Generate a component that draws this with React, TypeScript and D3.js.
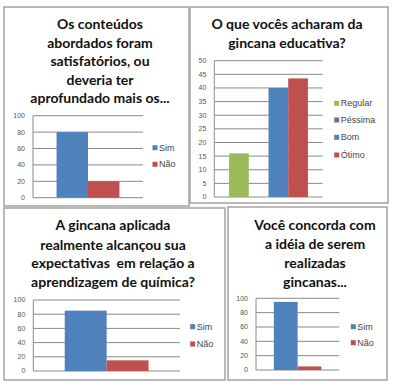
import React from "react";
import * as d3 from "d3";

// survey answers
const simNao = ["Sim", "Não"];
const q1Values = [80, 20];
const q2Series = ["Regular", "Péssima", "Bom", "Ótimo"];
const q2Values = [16, 0, 40, 43.5];
const q3Values = [85, 15];
const q4Values = [95, 5];

const ticks100 = [0, 20, 40, 60, 80, 100];
const ticks50 = [0, 5, 10, 15, 20, 25, 30, 35, 40, 45, 50];

const q1Title = ["Os conteúdos", "abordados foram", "satisfatórios, ou", "deveria ter", "aprofundado mais os..."];
const q2Title = ["O que vocês acharam da", "gincana educativa?"];
const q3Title = ["A gincana aplicada", "realmente alcançou sua", "expectativas  em relação a", "aprendizagem de química?"];
const q4Title = ["Você concorda com", "a idéia de serem", "realizadas", "gincanas..."];

const COLORS: Record<string, string> = {
  Sim: "#4F81BD",
  Não: "#C0504D",
  Regular: "#9BBB59",
  Péssima: "#8064A2",
  Bom: "#4F81BD",
  Ótimo: "#C0504D",
};

type PanelProps = {
  box: [number, number, number, number];
  title: string[];
  titleX: number;
  titleY: number[];
  series: string[];
  values: number[];
  ticks: number[];
  plot: { x0: number; x1: number; y0: number; y1: number };
  legend: { x: number; ys: number[] };
};

const Panel = ({ box, title, titleX, titleY, series, values, ticks, plot, legend }: PanelProps) => {
  const y = d3.scaleLinear().domain([0, d3.max(ticks) as number]).range([plot.y1, plot.y0]);
  // Excel-style grouped bars: gap width 150% around the single category
  const x = d3.scaleBand().domain(series).range([plot.x0, plot.x1]).paddingInner(0).paddingOuter(0.75);
  const font = "'Liberation Sans', Arial, sans-serif";

  return (
    <g>
      <rect x={box[0]} y={box[1]} width={box[2] - box[0]} height={box[3] - box[1]}
        fill="#fff" stroke="#a3a3a3" strokeWidth={1.5} />
      {title.map((t, i) => (
        <text key={t} x={titleX} y={titleY[i]} dy="0.36em" textAnchor="middle"
          style={{ whiteSpace: "pre" }}
          fontFamily="Lato, sans-serif" fontWeight="bold" fontSize={14} fill="#111">{t}</text>
      ))}
      {ticks.map((t) => (
        <g key={t}>
          <line x1={plot.x0} x2={plot.x1} y1={y(t)} y2={y(t)} stroke="#8a8a8a" strokeWidth={1} />
          <text x={plot.x0 - 8} y={y(t)} dy="0.35em" textAnchor="end" fontFamily={font}
            fontSize={7} fill="#555">{t}</text>
        </g>
      ))}
      <line x1={plot.x0} x2={plot.x0} y1={plot.y0} y2={plot.y1} stroke="#8a8a8a" />
      {series.map((s, i) => (
        <rect key={s} x={x(s)} y={y(values[i])} width={x.bandwidth()}
          height={plot.y1 - y(values[i])} fill={COLORS[s]} />
      ))}
      {series.map((s, i) => (
        <g key={s}>
          <rect x={legend.x - 2.5} y={legend.ys[i] - 2.5} width={5} height={5} fill={COLORS[s]} />
          <text x={legend.x + 4} y={legend.ys[i]} dy="0.35em" fontFamily={font} fontSize={9}
            fill="#444">{s}</text>
        </g>
      ))}
    </g>
  );
};

export default function App() {
  return (
    <svg width={395} height={391} style={{ position: "absolute", left: 0, top: 0 }}>
      <rect width={395} height={391} fill="#fff" />
      <Panel box={[4, 7, 189, 206]} title={q1Title} titleX={100}
        titleY={[24, 42.5, 61, 79.5, 97.5]} series={simNao} values={q1Values} ticks={ticks100}
        plot={{ x0: 33, x1: 143, y0: 115.7, y1: 197.7 }} legend={{ x: 155, ys: [147.7, 164.3] }} />
      <Panel box={[190, 7, 388, 203]} title={q2Title} titleX={287}
        titleY={[24, 42.7]} series={q2Series} values={q2Values} ticks={ticks50}
        plot={{ x0: 214.3, x1: 322.7, y0: 60.7, y1: 197 }}
        legend={{ x: 336.7, ys: [103.3, 120, 137.3, 155] }} />
      <Panel box={[4, 208, 225, 380]} title={q3Title} titleX={113}
        titleY={[225, 244.5, 263.3, 281.7]} series={simNao} values={q3Values} ticks={ticks100}
        plot={{ x0: 33.3, x1: 180, y0: 300, y1: 371 }} legend={{ x: 192.7, ys: [326.7, 344] }} />
      <Panel box={[228, 207, 387, 380]} title={q4Title} titleX={315}
        titleY={[225, 243.8, 263.3, 281.7]} series={simNao} values={q4Values} ticks={ticks100}
        plot={{ x0: 256, x1: 339.3, y0: 298.3, y1: 370 }} legend={{ x: 353.3, ys: [326.7, 342.7] }} />
    </svg>
  );
}
